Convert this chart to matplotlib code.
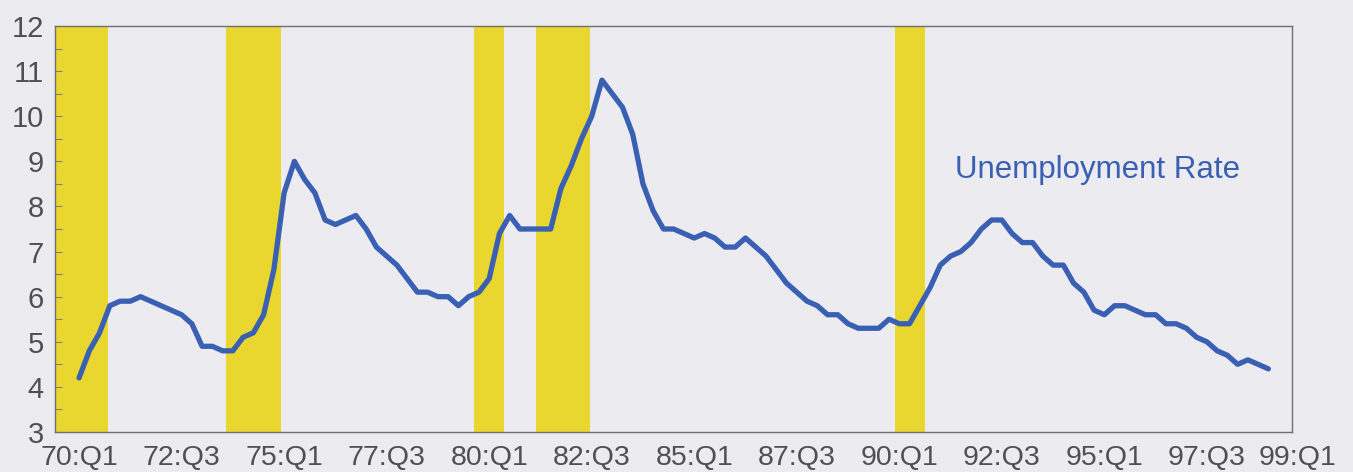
import matplotlib
matplotlib.use('Agg')
import matplotlib.pyplot as plt
import matplotlib.transforms as mtransforms
import numpy as np

# quarterly unemployment rate, 70:Q1 .. 99:Q1
unemp = [
    4.2, 4.8, 5.2, 5.8,   # 1970
    5.9, 5.9, 6.0, 5.9,   # 1971
    5.8, 5.7, 5.6, 5.4,   # 1972
    4.9, 4.9, 4.8, 4.8,   # 1973
    5.1, 5.2, 5.6, 6.6,   # 1974
    8.3, 9.0, 8.6, 8.3,   # 1975
    7.7, 7.6, 7.7, 7.8,   # 1976
    7.5, 7.1, 6.9, 6.7,   # 1977
    6.4, 6.1, 6.1, 6.0,   # 1978
    6.0, 5.8, 6.0, 6.1,   # 1979
    6.4, 7.4, 7.8, 7.5,   # 1980
    7.5, 7.5, 7.5, 8.4,   # 1981
    8.9, 9.5, 10.0, 10.8, # 1982
    10.5, 10.2, 9.6, 8.5, # 1983
    7.9, 7.5, 7.5, 7.4,   # 1984
    7.3, 7.4, 7.3, 7.1,   # 1985
    7.1, 7.3, 7.1, 6.9,   # 1986
    6.6, 6.3, 6.1, 5.9,   # 1987
    5.8, 5.6, 5.6, 5.4,   # 1988
    5.3, 5.3, 5.3, 5.5,   # 1989
    5.4, 5.4, 5.8, 6.2,   # 1990
    6.7, 6.9, 7.0, 7.2,   # 1991
    7.5, 7.7, 7.7, 7.4,   # 1992
    7.2, 7.2, 6.9, 6.7,   # 1993
    6.7, 6.3, 6.1, 5.7,   # 1994
    5.6, 5.8, 5.8, 5.7,   # 1995
    5.6, 5.6, 5.4, 5.4,   # 1996
    5.3, 5.1, 5.0, 4.8,   # 1997
    4.7, 4.5, 4.6, 4.5,   # 1998
    4.4,                  # 1999
]

# recession periods, in quarters counted from 70:Q1
rec_start = [-2.4, 14.3, 38.5, 44.6, 79.6]
rec_end = [2.8, 19.7, 41.4, 49.8, 82.5]

tick_pos = [0, 10, 20, 30, 40, 50, 60, 70, 80, 90, 100, 110, 116]
tick_labels = ['70:Q1', '72:Q3', '75:Q1', '77:Q3', '80:Q1', '82:Q3',
               '85:Q1', '87:Q3', '90:Q1', '92:Q3', '95:Q1', '97:Q3', '99:Q1']

bg = '#ebebf0'
blue = '#3a60b4'
yellow = '#e9d62f'
grey = '#505050'

plt.rcParams['font.family'] = ['Liberation Sans', 'DejaVu Sans']

fig = plt.figure(figsize=(13.53, 4.72), dpi=100, facecolor=bg)
ax = fig.add_axes([0.0407, 0.0847, 0.9142, 0.8602], facecolor=bg)

for s, e in zip(rec_start, rec_end):
    ax.axvspan(s, e, color=yellow, lw=0, zorder=1)

q = np.arange(len(unemp))
ax.plot(q, unemp, color=blue, lw=3.8, solid_joinstyle='round',
        solid_capstyle='round', zorder=3)

ax.set_xlim(-2.34, 118.3)
ax.set_ylim(3, 12)

ax.set_yticks(np.arange(3, 13, 1))
ax.set_yticks(np.arange(3.5, 12, 1), minor=True)
ax.tick_params(axis='y', which='both', direction='in', length=5,
               color='#808080', width=0.8, pad=8,
               labelsize=21, labelcolor=grey)

ax.set_xticks(tick_pos)
ax.set_xticklabels(tick_labels)
ax.tick_params(axis='x', length=0, pad=9, labelsize=20.5, labelcolor=grey)
# the closing label sits a little right of its quarter
last = ax.get_xticklabels()[-1]
last.set_transform(last.get_transform() +
                   mtransforms.ScaledTranslation(0.29, 0, fig.dpi_scale_trans))

for sp in ax.spines.values():
    sp.set_color('#707070')
    sp.set_linewidth(1.0)

ax.text(99.3, 8.8, 'Unemployment Rate', color=blue, fontsize=22.5,
        ha='center', va='center')

fig.savefig('out.png', dpi=100, facecolor=bg)
